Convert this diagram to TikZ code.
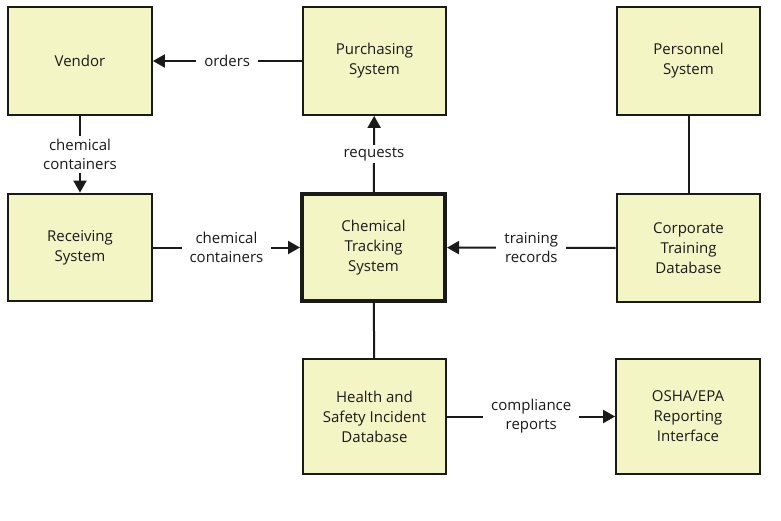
\documentclass[tikz,border=0pt]{standalone}
\usepackage{fontspec}
\setmainfont{Open Sans}
\usetikzlibrary{arrows.meta}
\definecolor{boxfill}{HTML}{F3F5C5}
\definecolor{ink}{HTML}{1A1A1A}
\tikzset{
  box/.style={draw=ink, fill=boxfill, line width=2.3pt, minimum width=143.5pt, minimum height=107.5pt, inner sep=0pt, align=center, font=\fontsize{15}{20}\selectfont, text=ink},
  mainbox/.style={box, line width=4pt, minimum width=143pt, minimum height=107pt},
  tallbox/.style={box, minimum height=114.5pt},
  lbl/.style={fill=white, inner xsep=8pt, inner ysep=2pt, align=center, font=\fontsize{15}{19}\selectfont, text=ink},
  conn/.style={draw=ink, line width=2pt},
  arr/.style={conn, -{Triangle[length=12pt, width=13pt]}}
}
\begin{document}
\begin{tikzpicture}[x=1pt, y=-1pt]
\useasboundingbox[fill=white] (0,0) rectangle (781,520);
\node[box] (ven) at (80,61) {Vendor};
\node[box] (pur) at (374.5,61) {Purchasing\\System};
\node[box] (per) at (688.5,61) {Personnel\\System};
\node[box] (rec) at (80,247.5) {Receiving\\System};
\node[mainbox] (cts) at (373.5,247.5) {Chemical\\Tracking\\System};
\node[box] (ctd) at (688.5,248) {Corporate\\Training\\Database};
\node[tallbox] (hsi) at (374.5,416.5) {Health and\\Safety Incident\\Database};
\node[tallbox] (osh) at (688,416.5) {OSHA/EPA\\Reporting\\Interface};

\draw[arr] (pur) -- node[lbl] {orders} (ven);
\draw[arr] (ven) -- node[lbl, inner ysep=3pt] {chemical\\containers} (rec);
\draw[arr] (cts) -- node[lbl] {requests} (pur);
\draw[arr] (rec) -- node[lbl] {chemical\\containers} (cts);
\draw[arr] (ctd) -- node[lbl] {training\\records} (cts);
\draw[conn] (per) -- (ctd);
\draw[conn] (cts) -- (hsi);
\draw[arr] (hsi) -- node[lbl] {compliance\\reports} (osh);
\end{tikzpicture}
\end{document}
